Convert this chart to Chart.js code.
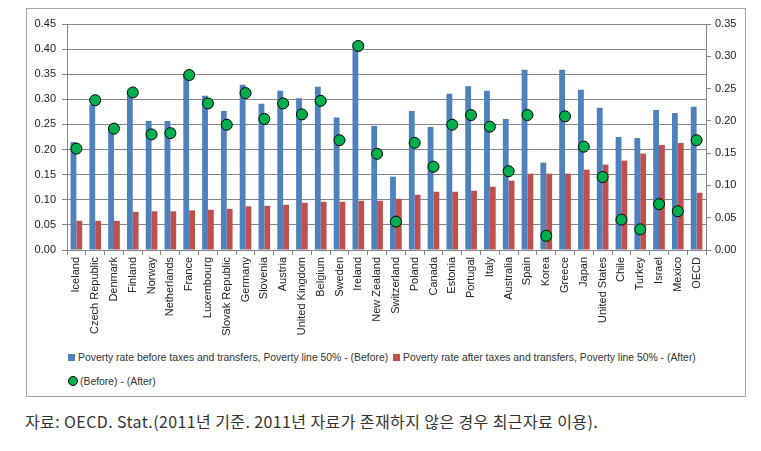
<!DOCTYPE html>
<html>
<head>
<meta charset="utf-8">
<script src="https://cdn.jsdelivr.net/npm/chart.js@4"></script>
<style>
  body { margin: 0; background: #fff; width: 761px; height: 451px; position: relative; overflow: hidden; }
  #frame { position: absolute; left: 26px; top: 8px; width: 720px; height: 389px; border: 1px solid #a6a6a6; box-sizing: border-box; }
  #chart { position: absolute; left: 1px; top: 1px; }
  .legend { position: absolute; font: 10.4px "Liberation Sans", Arial, sans-serif; color: #333; white-space: nowrap; }
  .legend span.box { display: inline-block; width: 7px; height: 7px; margin-right: 3px; vertical-align: 0px; }
  .legend span.dot { display: inline-block; width: 10px; height: 10px; border-radius: 50%; background: #00B050; border: 1px solid #000; box-sizing: border-box; margin-right: 2px; vertical-align: -1px; }
  #caption { position: absolute; left: 25px; top: 409px; font: 16px "Noto Sans CJK KR", sans-serif; letter-spacing: 0.4px; color: #333; white-space: nowrap; }
</style>
</head>
<body>
<div id="frame">
  <canvas id="chart" width="718" height="340"></canvas>
  <div class="legend" style="left:41px; top:343px;">
    <span class="box" style="background:#4F81BD"></span>Poverty rate before taxes and transfers, Poverty line 50% - (Before)
    <span class="box" style="background:#C0504D; margin-left:2px"></span>Poverty rate after taxes and transfers, Poverty line 50% - (After)
  </div>
  <div class="legend" style="left:41px; top:367px;">
    <span class="dot"></span>(Before) - (After)
  </div>
</div>
<div id="caption">자료: OECD. Stat.(2011년 기준. 2011년 자료가 존재하지 않은 경우 최근자료 이용).</div>
<script>
// Categories and series
const countries = ['Iceland', 'Czech Republic', 'Denmark', 'Finland', 'Norway', 'Netherlands', 'France',
  'Luxembourg', 'Slovak Republic', 'Germany', 'Slovenia', 'Austria', 'United Kingdom', 'Belgium', 'Sweden',
  'Ireland', 'New Zealand', 'Switzerland', 'Poland', 'Canada', 'Estonia', 'Portugal', 'Italy', 'Australia',
  'Spain', 'Korea', 'Greece', 'Japan', 'United States', 'Chile', 'Turkey', 'Israel', 'Mexico', 'OECD'];

const before = [0.215, 0.290, 0.242, 0.315, 0.257, 0.257, 0.349, 0.307, 0.277, 0.329, 0.291, 0.317, 0.302,
  0.325, 0.264, 0.413, 0.247, 0.146, 0.277, 0.245, 0.311, 0.326, 0.317, 0.261, 0.359, 0.174, 0.359, 0.319,
  0.283, 0.225, 0.223, 0.279, 0.273, 0.285];

const after = [0.058, 0.058, 0.058, 0.076, 0.077, 0.077, 0.079, 0.080, 0.082, 0.087, 0.088, 0.090, 0.094,
  0.096, 0.096, 0.098, 0.098, 0.102, 0.110, 0.116, 0.116, 0.118, 0.126, 0.138, 0.152, 0.152, 0.152, 0.160,
  0.170, 0.178, 0.192, 0.209, 0.213, 0.114];

const diff = [0.157, 0.232, 0.188, 0.244, 0.179, 0.181, 0.271, 0.227, 0.194, 0.243, 0.203, 0.227, 0.210,
  0.231, 0.170, 0.316, 0.149, 0.044, 0.166, 0.129, 0.194, 0.209, 0.191, 0.122, 0.209, 0.022, 0.207, 0.160,
  0.113, 0.047, 0.032, 0.071, 0.060, 0.170];

const axisGray = '#868686';
const tickFont = { family: '"Liberation Sans", Arial, sans-serif', size: 11 };

new Chart(document.getElementById('chart'), {
  data: {
    labels: countries,
    datasets: [
      {
        type: 'line', label: '(Before) - (After)', data: diff, yAxisID: 'y1', order: 0,
        showLine: false, pointRadius: 5.5, pointBackgroundColor: '#00B050',
        pointBorderColor: '#000', pointBorderWidth: 1
      },
      {
        type: 'bar', label: 'Before', data: before, yAxisID: 'y', order: 1,
        backgroundColor: '#4F81BD', categoryPercentage: 0.62, barPercentage: 1
      },
      {
        type: 'bar', label: 'After', data: after, yAxisID: 'y', order: 1,
        backgroundColor: '#C0504D', categoryPercentage: 0.62, barPercentage: 1
      }
    ]
  },
  options: {
    responsive: false,
    animation: false,
    layout: { padding: { top: 14 } },
    plugins: { legend: { display: false }, tooltip: { enabled: false } },
    scales: {
      x: {
        grid: { offset: true, drawOnChartArea: false, tickLength: 5, color: axisGray },
        border: { color: axisGray },
        ticks: { minRotation: 90, maxRotation: 90, autoSkip: false, padding: 2, color: '#222', font: tickFont },
        afterFit: s => { s.height = 100; }
      },
      y: {
        position: 'left', min: 0, max: 0.45,
        grid: { color: axisGray, tickLength: 5 },
        border: { color: axisGray },
        ticks: { stepSize: 0.05, padding: 6, color: '#222', font: tickFont, callback: v => Number(v).toFixed(2) },
        afterFit: s => { s.width = 39; }
      },
      y1: {
        position: 'right', min: 0, max: 0.35,
        grid: { drawOnChartArea: false, color: axisGray, tickLength: 5 },
        border: { color: axisGray },
        ticks: { stepSize: 0.05, padding: 4, color: '#222', font: tickFont, callback: v => Number(v).toFixed(2) },
        afterFit: s => { s.width = 40; }
      }
    }
  }
});
</script>
</body>
</html>
